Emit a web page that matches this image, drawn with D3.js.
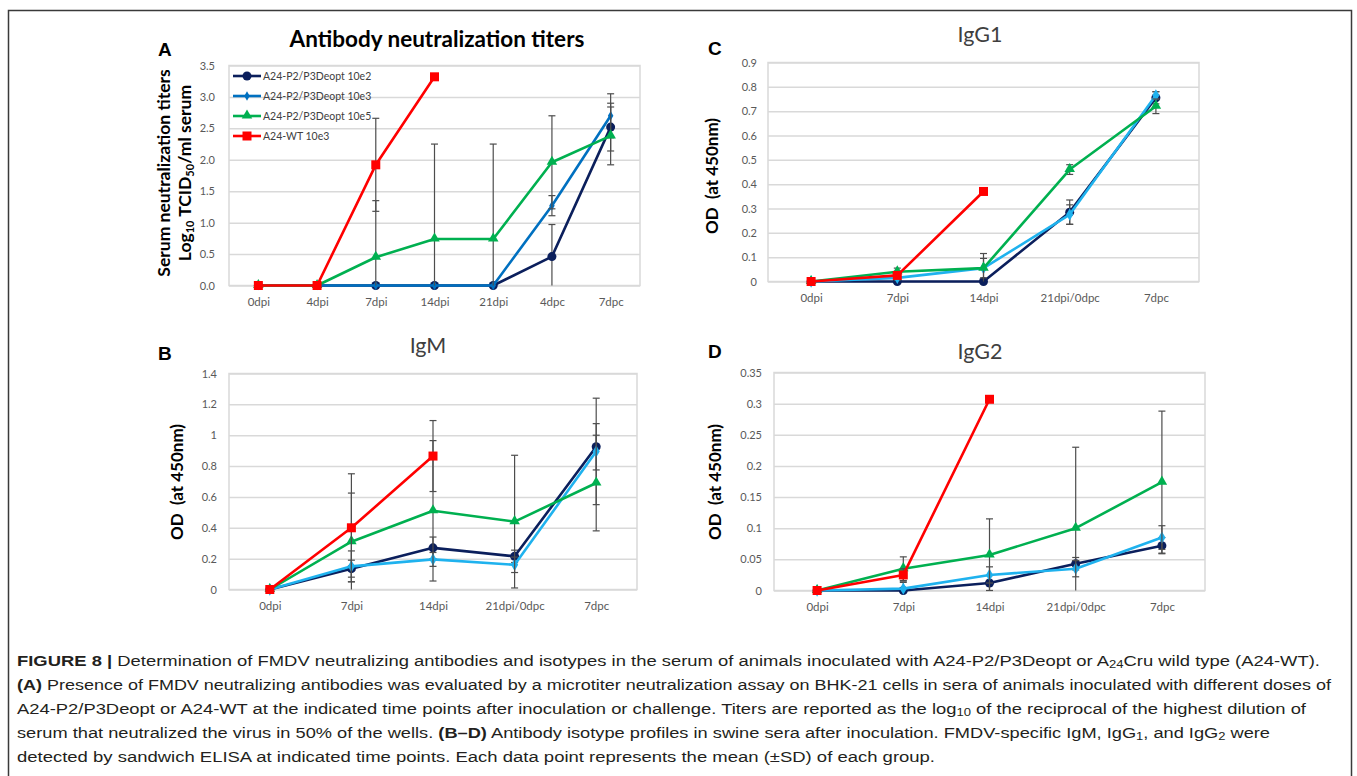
<!DOCTYPE html>
<html>
<head>
<meta charset="utf-8">
<script src="https://cdn.jsdelivr.net/npm/d3@7"></script>
<style>
  body { margin: 0; background: #fff; }
  svg { display: block; }
  .tick text { font-family: Lato, "Open Sans", sans-serif; fill: #595959; }
</style>
</head>
<body>
<div id="fig"></div>
<script>
/* Categories (time points) */
var catsA = ["0dpi", "4dpi", "7dpi", "14dpi", "21dpi", "4dpc", "7dpc"];
var catsIso = ["0dpi", "7dpi", "14dpi", "21dpi/0dpc", "7dpc"];

var seriesNames = ["A24-P2/P3Deopt 10e2", "A24-P2/P3Deopt 10e3", "A24-P2/P3Deopt 10e5", "A24-WT 10e3"];

/* Panel A - neutralization titers (log10 TCID50/ml) */
var navyA  = [0, 0, 0, 0, 0, 0.46, 2.52];
var navyAErr = [0, 0, 0, 0, 0, 0.51, 0.38];
var blueA  = [0, 0, 0, 0, 0, 1.27, 2.70];
var blueAErr = [0, 0, 0, 0, 0, 0.16, 0.35];
var greenA = [0, 0, 0.45, 0.74, 0.74, 1.96, 2.38];
var greenAErr = [0, 0, 0.90, 1.51, 1.51, 0.74, 0.46];
var redA   = [0, 0, 1.92, 3.32];
var redAErr = [0, 0, 0.74, 0];

/* Panel B - IgM */
var navyB  = [0, 0.135, 0.27, 0.215, 0.925];
var navyBErr = [0, 0.055, 0.07, 0.04, 0.15];
var blueB  = [0, 0.15, 0.195, 0.16, 0.895];
var blueBErr = [0, 0.10, 0.045, 0.05, 0.345];
var greenB = [0, 0.31, 0.51, 0.44, 0.69];
var greenBErr = [0, 0.315, 0.455, 0.43, 0.31];
var redB   = [0, 0.40, 0.865];
var redBErr = [0, 0.35, 0.23];

/* Panel C - IgG1 */
var navyC  = [0, 0, 0, 0.285, 0.755];
var navyCErr = [0, 0, 0, 0.05, 0.025];
var blueC  = [0, 0.015, 0.055, 0.275, 0.765];
var blueCErr = [0, 0.01, 0.04, 0.04, 0.015];
var greenC = [0, 0.04, 0.055, 0.46, 0.72];
var greenCErr = [0, 0.015, 0.06, 0.02, 0.03];
var redC   = [0, 0.025, 0.37];
var redCErr = [0, 0.01, 0];

/* Panel D - IgG2 */
var navyD  = [0, 0, 0.012, 0.043, 0.072];
var navyDErr = [0, 0.003, 0.012, 0.01, 0.013];
var blueD  = [0, 0.003, 0.025, 0.035, 0.085];
var blueDErr = [0, 0.01, 0.013, 0.013, 0.019];
var greenD = [0, 0.035, 0.057, 0.10, 0.174];
var greenDErr = [0, 0.019, 0.058, 0.13, 0.114];
var redD   = [0, 0.025, 0.307];
var redDErr = [0, 0.01, 0];

var W = 1357, H = 776;
var svg = d3.select("#fig").append("svg").attr("width", W).attr("height", H);

/* outer frame of the figure */
svg.append("rect")
    .attr("x", 8.5).attr("y", 10.5)
    .attr("width", 1343).attr("height", 820)
    .attr("fill", "none")
    .attr("stroke", "#3a3a3a")
    .attr("stroke-width", 1.5);

var chartFont = "Lato, 'Open Sans', sans-serif";

function makeSeries(names, vals, errs, colors, shapes) {
    return vals.map(function(v, i) {
        return {name: names[i], values: v, errors: errs[i], color: colors[i], shape: shapes[i]};
    });
}

function marker(g, shape, color, x, y) {
    if (shape == "circle") {
        g.append("circle").attr("cx", x).attr("cy", y).attr("r", 4.5).attr("fill", color);
    } else if (shape == "square") {
        g.append("rect").attr("x", x - 4.5).attr("y", y - 4.5).attr("width", 9).attr("height", 9).attr("fill", color);
    } else if (shape == "triangle") {
        g.append("path").attr("d", d3.symbol().type(d3.symbolTriangle).size(48)())
            .attr("transform", "translate(" + x + "," + (y - 0.5) + ")").attr("fill", color);
    } else if (shape == "smalldiamond") {
        g.append("path").attr("d", d3.symbol().type(d3.symbolDiamond).size(26)())
            .attr("transform", "translate(" + x + "," + y + ")").attr("fill", color);
    } else {
        g.append("path").attr("d", d3.symbol().type(d3.symbolDiamond).size(44)())
            .attr("transform", "translate(" + x + "," + y + ")").attr("fill", color);
    }
}

/* draws one panel */
function panel(p) {
    var g = svg.append("g");
    var x = d3.scalePoint().domain(p.cats).range([p.x0, p.x1]).padding(0.5);
    var y = d3.scaleLinear().domain([0, p.max]).range([p.y1, p.y0]);
    var nt = Math.round(p.max / p.step);
    var tv = d3.range(0, nt + 1).map(function(i) { return +(i * p.step).toFixed(3); });

    // gridlines
    g.append("g")
        .attr("transform", "translate(" + p.x0 + ",0)")
        .call(d3.axisLeft(y).tickValues(tv).tickSize(-(p.x1 - p.x0)).tickFormat(""))
        .call(function(a) {
            a.select(".domain").remove();
            a.selectAll("line").attr("stroke", "#d9d9d9").attr("stroke-width", 1.5);
        });

    // plot frame
    g.append("rect")
        .attr("x", p.x0).attr("y", p.y0)
        .attr("width", p.x1 - p.x0).attr("height", p.y1 - p.y0)
        .attr("fill", "none").attr("stroke", "#d9d9d9").attr("stroke-width", 1.5);

    // y tick labels
    g.append("g")
        .attr("transform", "translate(" + (p.x0 - 3) + ",0)")
        .call(d3.axisLeft(y).tickValues(tv).tickSize(0).tickPadding(p.pad).tickFormat(p.fmt))
        .call(function(a) {
            a.select(".domain").remove();
            a.selectAll("text").style("font-size", "11px");
        });

    // x tick labels
    g.append("g")
        .attr("transform", "translate(0," + p.y1 + ")")
        .call(d3.axisBottom(x).tickSize(0).tickPadding(12))
        .call(function(a) {
            a.select(".domain").remove();
            a.selectAll("text").style("font-size", "11.5px");
        });

    var line = d3.line()
        .x(function(d, i) { return x(p.cats[i]); })
        .y(function(d) { return y(d); });

    p.series.forEach(function(s) {
        var sg = g.append("g");
        // error bars
        s.values.forEach(function(v, i) {
            var e = s.errors[i];
            if (!e) return;
            var cx = x(p.cats[i]);
            var hi = Math.min(v + e, p.max), lo = Math.max(v - e, 0);
            sg.append("line")
                .attr("x1", cx).attr("x2", cx)
                .attr("y1", y(hi)).attr("y2", y(lo))
                .attr("stroke", "#4d4d4d").attr("stroke-width", 1.2);
            [[v + e, hi], [v - e, lo]].forEach(function(c) {
                if (c[0] != c[1]) return;
                sg.append("line")
                    .attr("x1", cx - 3.5).attr("x2", cx + 3.5)
                    .attr("y1", y(c[1])).attr("y2", y(c[1]))
                    .attr("stroke", "#4d4d4d").attr("stroke-width", 1.2);
            });
        });
        sg.append("path")
            .datum(s.values)
            .attr("d", line)
            .attr("fill", "none")
            .attr("stroke", s.color)
            .attr("stroke-width", 2.6)
            .attr("stroke-linejoin", "round");
        s.values.forEach(function(v, i) {
            marker(sg, s.shape, s.color, x(p.cats[i]), y(v));
        });
    });

    // panel letter
    svg.append("text")
        .attr("x", p.letterX).attr("y", p.letterY)
        .style("font-family", "'Liberation Sans', Arial, sans-serif")
        .style("font-weight", "bold").style("font-size", "19px")
        .text(p.letter);

    // title
    svg.append("text")
        .attr("x", p.titleX).attr("y", p.titleY)
        .attr("text-anchor", "middle")
        .style("font-family", chartFont)
        .style("font-size", p.titleSize + "px")
        .style("font-weight", p.titleBold ? "bold" : "normal")
        .attr("fill", p.titleBold ? "#000" : "#3f3f3f")
        .text(p.title);

    return {x: x, y: y, g: g};
}

function fmtOD(d) { return d === 0 ? "0" : String(d); }

var colIso = ["#0b1f5c", "#1fb2ee", "#00b050", "#ff0000"];
var shpIso = ["circle", "diamond", "triangle", "square"];

/* Panel A */
var pa = panel({
    cats: catsA, x0: 229, x1: 640, y0: 65.5, y1: 285.5, max: 3.5, step: 0.5,
    fmt: d3.format(".1f"), pad: 11,
    series: makeSeries(seriesNames, [navyA, blueA, greenA, redA], [navyAErr, blueAErr, greenAErr, redAErr],
        ["#0b1f5c", "#0070c0", "#00b050", "#ff0000"], ["circle", "smalldiamond", "triangle", "square"]),
    letter: "A", letterX: 158, letterY: 56,
    title: "Antibody neutralization titers", titleX: 437, titleY: 47, titleSize: 22.5, titleBold: true
});

/* legend for panel A */
var legColors = ["#0b1f5c", "#0070c0", "#00b050", "#ff0000"];
var legShapes = ["circle", "smalldiamond", "triangle", "square"];
var leg = svg.append("g");
seriesNames.forEach(function(n, i) {
    var ly = 76 + i * 20;
    leg.append("line").attr("x1", 233).attr("x2", 261).attr("y1", ly).attr("y2", ly)
        .attr("stroke", legColors[i]).attr("stroke-width", 2.6);
    marker(leg, legShapes[i], legColors[i], 247, ly);
    leg.append("text").attr("x", 263).attr("y", ly + 3.5)
        .style("font-family", chartFont).style("font-size", "10.5px").attr("fill", "#404040")
        .text(n);
});

/* y label panel A (two lines) */
var ya = svg.append("g").attr("transform", "translate(170,173) rotate(-90)");
ya.append("text").attr("text-anchor", "middle")
    .style("font-family", chartFont).style("font-weight", "bold").style("font-size", "17.5px")
    .text("Serum neutralization titers");
var yl2 = ya.append("text").attr("text-anchor", "middle").attr("y", 21)
    .style("font-family", chartFont).style("font-weight", "bold").style("font-size", "17.5px");
yl2.append("tspan").text("Log");
yl2.append("tspan").attr("baseline-shift", "-25%").style("font-size", "11px").text("10");
yl2.append("tspan").text(" TCID");
yl2.append("tspan").attr("baseline-shift", "-25%").style("font-size", "11px").text("50");
yl2.append("tspan").text("/ml serum");

/* Panel C - IgG1 */
panel({
    cats: catsIso, x0: 768, x1: 1199, y0: 62.5, y1: 281.5, max: 0.9, step: 0.1,
    fmt: fmtOD, pad: 8,
    series: makeSeries(seriesNames, [navyC, blueC, greenC, redC], [navyCErr, blueCErr, greenCErr, redCErr], colIso, shpIso),
    letter: "C", letterX: 708, letterY: 55,
    title: "IgG1", titleX: 980, titleY: 42, titleSize: 21.5
});

/* Panel B - IgM */
panel({
    cats: catsIso, x0: 229, x1: 637, y0: 373.5, y1: 589.5, max: 1.4, step: 0.2,
    fmt: fmtOD, pad: 9,
    series: makeSeries(seriesNames, [navyB, blueB, greenB, redB], [navyBErr, blueBErr, greenBErr, redBErr], colIso, shpIso),
    letter: "B", letterX: 158, letterY: 360,
    title: "IgM", titleX: 428, titleY: 353, titleSize: 21.5
});

/* Panel D - IgG2 */
panel({
    cats: catsIso, x0: 774, x1: 1205, y0: 372.5, y1: 590.5, max: 0.35, step: 0.05,
    fmt: fmtOD, pad: 9,
    series: makeSeries(seriesNames, [navyD, blueD, greenD, redD], [navyDErr, blueDErr, greenDErr, redDErr], colIso, shpIso),
    letter: "D", letterX: 708, letterY: 358,
    title: "IgG2", titleX: 980, titleY: 359, titleSize: 21.5
});

/* OD axis labels */
[[718, 176], [183, 482], [721, 482]].forEach(function(c) {
    svg.append("text")
        .attr("transform", "translate(" + c[0] + "," + c[1] + ") rotate(-90)")
        .attr("text-anchor", "middle")
        .style("font-family", chartFont).style("font-weight", "bold").style("font-size", "17px")
        .style("white-space", "pre")
        .text("OD  (at 450nm)");
});

/* Caption */
var capLines = [
    [["b", "FIGURE 8 | "], ["", "Determination of FMDV neutralizing antibodies and isotypes in the serum of animals inoculated with A24-P2/P3Deopt or A"], ["sub", "24"], ["", "Cru wild type (A24-WT)."]],
    [["b", "(A)"], ["", " Presence of FMDV neutralizing antibodies was evaluated by a microtiter neutralization assay on BHK-21 cells in sera of animals inoculated with different doses of"]],
    [["", "A24-P2/P3Deopt or A24-WT at the indicated time points after inoculation or challenge. Titers are reported as the log"], ["sub", "10"], ["", " of the reciprocal of the highest dilution of"]],
    [["", "serum that neutralized the virus in 50% of the wells. "], ["b", "(B\u2013D)"], ["", " Antibody isotype profiles in swine sera after inoculation. FMDV-specific IgM, IgG"], ["sub", "1"], ["", ", and IgG"], ["sub", "2"], ["", " were"]],
    [["", "detected by sandwich ELISA at indicated time points. Each data point represents the mean (\u00b1SD) of each group."]]
];
var capEnds = [1320, 1331, 1306, 1270, 935];

capLines.forEach(function(parts, i) {
    var t = svg.append("text")
        .attr("x", 17).attr("y", 666 + i * 24)
        .style("font-family", "'Liberation Sans', Arial, sans-serif")
        .style("font-size", "15.5px")
        .attr("fill", "#231f20");
    parts.forEach(function(pt) {
        var s = t.append("tspan").text(pt[1]);
        if (pt[0] == "b") s.style("font-weight", "bold");
        if (pt[0] == "sub") s.attr("baseline-shift", "-22%").style("font-size", "11px");
    });
    t.attr("textLength", capEnds[i] - 17).attr("lengthAdjust", "spacingAndGlyphs");
});
</script>
</body>
</html>
